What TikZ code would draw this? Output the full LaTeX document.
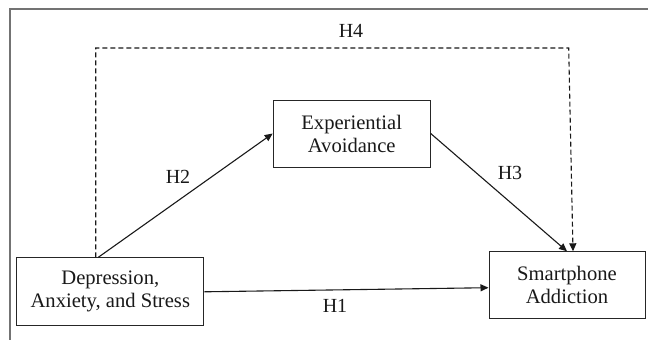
\documentclass[tikz,border=0pt]{standalone}
\usepackage{fontspec}
\setmainfont{Liberation Serif}
\usetikzlibrary{arrows.meta}

\tikzset{
  conceptbox/.style={draw=black!85, line width=1pt, fill=white, align=center,
    inner sep=0pt, text=black!90,
    font=\fontsize{20.6}{23}\selectfont},
  pathlabel/.style={text=black!90, font=\fontsize{20}{23}\selectfont, inner sep=0pt},
  link/.style={draw=black!90, line width=1.1pt, -{Triangle[length=8pt,width=7pt]}},
  indirect/.style={link, dashed, dash pattern=on 5pt off 3pt},
  frameline/.style={draw=black!55, line width=1.2pt}
}

\begin{document}
\begin{tikzpicture}[x=1pt, y=-1pt]
  \useasboundingbox (0,0) rectangle (648,340);

  % outer frame (top and left edges only)
  \draw[frameline] (10,340) -- (10,9) -- (648,9);

  % constructs
  \node[conceptbox, minimum width=187pt, minimum height=68pt] (dep) at (110.3,291.8)
    {Depression,\\Anxiety, and Stress};
  \node[conceptbox, minimum width=157pt, minimum height=67pt] (exp) at (351.7,133.5)
    {Experiential\\Avoidance};
  \node[conceptbox, minimum width=156pt, minimum height=67pt] (sa) at (567,285.3)
    {Smartphone\\Addiction};

  % corner of the direct-effect path
  \coordinate (h4right) at (568.7,48);

  % hypothesised paths
  \draw[link] (dep.east) -- ([yshift=-2.4pt]sa.west);
  \draw[link] ([xshift=-12pt]dep.north) -- (exp.west);
  \draw[link] (exp.east) -- (sa.north);
  \draw[indirect] ([xshift=-14.6pt]dep.north) |- (h4right) -- ([xshift=6pt]sa.north);

  % path labels
  \node[pathlabel] (lh4) at (351,31) {H4};
  \node[pathlabel] (lh2) at (178,177) {H2};
  \node[pathlabel] (lh3) at (510,173) {H3};
  \node[pathlabel] (lh1) at (335,306) {H1};
\end{tikzpicture}
\end{document}
